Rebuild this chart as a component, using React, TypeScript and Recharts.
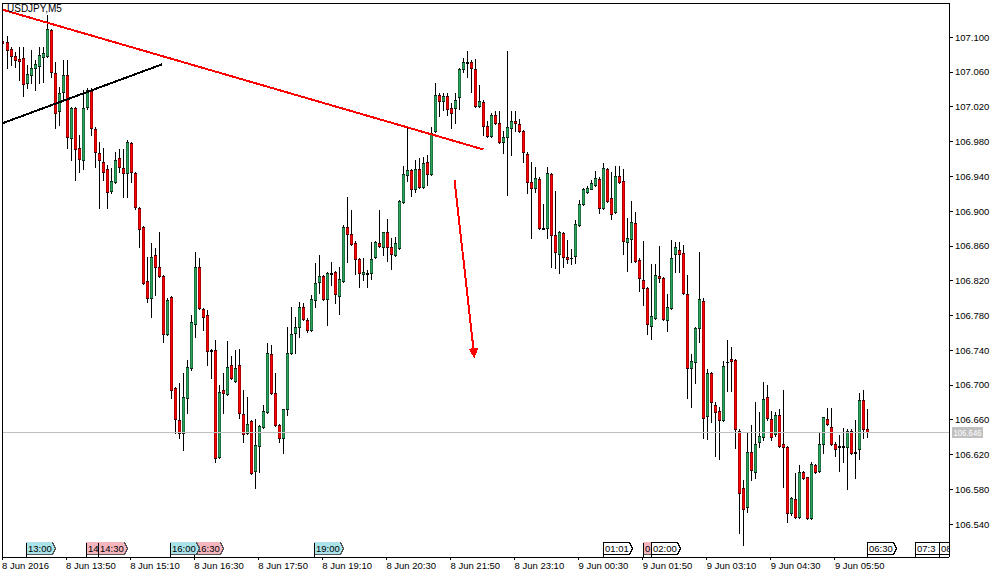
import React from 'react';
import { ComposedChart, Bar, XAxis, YAxis, ReferenceLine } from 'recharts';

// USDJPY M5, 8 Jun 2016 12:30 .. 9 Jun 06:30 (one bar every 5 minutes)
const opens = [
  107.096, 107.095, 107.087, 107.079, 107.075, 107.076, 107.048, 107.057, 107.065, 107.067,
  107.077, 107.079, 107.109, 107.059, 107.015, 107.037, 107.057, 106.984, 107.019, 106.973,
  106.959, 107.020, 107.038, 106.995, 106.967, 106.957, 106.949, 106.923, 106.934, 106.961,
  106.950, 106.944, 106.979, 106.944, 106.904, 106.882, 106.820, 106.800, 106.850, 106.836,
  106.826, 106.759, 106.801, 106.697, 106.660, 106.645, 106.685, 106.720, 106.770, 106.836,
  106.788, 106.781, 106.740, 106.740, 106.617, 106.694, 106.690, 106.723, 106.705, 106.723,
  106.667, 106.645, 106.659, 106.601, 106.630, 106.652, 106.669, 106.736, 106.691, 106.654,
  106.639, 106.672, 106.737, 106.760, 106.767, 106.790, 106.775, 106.763, 106.798, 106.819,
  106.826, 106.799, 106.829, 106.830, 106.803, 106.820, 106.882, 106.874, 106.864, 106.845,
  106.828, 106.829, 106.829, 106.847, 106.864, 106.859, 106.876, 106.859, 106.850, 106.858,
  106.911, 106.942, 106.947, 106.925, 106.949, 106.928, 106.957, 106.943, 106.992, 107.034,
  107.027, 107.033, 107.019, 107.019, 107.031, 107.064, 107.072, 107.072, 107.064, 107.021,
  107.026, 106.998, 106.987, 107.011, 107.002, 106.980, 106.985, 106.996, 107.004, 107.000,
  106.992, 106.966, 106.934, 106.927, 106.937, 106.881, 106.881, 106.943, 106.873, 106.851,
  106.875, 106.847, 106.846, 106.849, 106.884, 106.908, 106.922, 106.926, 106.930, 106.937,
  106.904, 106.949, 106.915, 106.899, 106.941, 106.935, 106.865, 106.868, 106.887, 106.844,
  106.821, 106.812, 106.768, 106.777, 106.826, 106.823, 106.775, 106.789, 106.851, 106.855,
  106.852, 106.805, 106.720, 106.727, 106.766, 106.797, 106.665, 106.714, 106.677, 106.670,
  106.660, 106.727, 106.730, 106.729, 106.647, 106.582, 106.560, 106.623, 106.600, 106.635,
  106.640, 106.686, 106.661, 106.644, 106.666, 106.632, 106.629, 106.553, 106.569, 106.548,
  106.600, 106.594, 106.547, 106.608, 106.601, 106.632, 106.661, 106.652, 106.632, 106.630,
  106.630, 106.629, 106.647, 106.623, 106.627, 106.683, 106.650,
];

const highs = [
  107.099, 107.102, 107.089, 107.083, 107.089, 107.089, 107.068, 107.086, 107.074, 107.089,
  107.089, 107.126, 107.110, 107.072, 107.043, 107.074, 107.074, 107.020, 107.020, 106.988,
  107.040, 107.042, 107.042, 106.997, 106.980, 106.973, 106.953, 106.950, 106.968, 106.971,
  106.971, 106.982, 106.980, 106.945, 106.905, 106.883, 106.847, 106.864, 106.858, 106.876,
  106.827, 106.800, 106.803, 106.698, 106.703, 106.714, 106.729, 106.781, 106.853, 106.846,
  106.789, 106.786, 106.742, 106.752, 106.700, 106.714, 106.751, 106.734, 106.740, 106.742,
  106.694, 106.686, 106.660, 106.661, 106.654, 106.677, 106.749, 106.746, 106.714, 106.655,
  106.673, 106.767, 106.790, 106.778, 106.796, 106.795, 106.777, 106.804, 106.841, 106.850,
  106.827, 106.830, 106.842, 106.831, 106.836, 106.884, 106.916, 106.901, 106.866, 106.846,
  106.846, 106.832, 106.865, 106.866, 106.901, 106.876, 106.891, 106.869, 106.870, 106.913,
  106.952, 106.996, 106.949, 106.959, 106.961, 106.962, 106.965, 106.997, 107.048, 107.036,
  107.036, 107.036, 107.025, 107.036, 107.065, 107.076, 107.084, 107.074, 107.075, 107.045,
  107.028, 107.004, 107.013, 107.015, 107.015, 106.992, 107.084, 107.015, 107.015, 107.006,
  106.994, 106.968, 106.957, 106.951, 106.939, 106.908, 106.951, 106.944, 106.923, 106.877,
  106.876, 106.867, 106.857, 106.890, 106.913, 106.927, 106.929, 106.936, 106.946, 106.939,
  106.956, 106.950, 106.945, 106.952, 106.952, 106.949, 106.892, 106.912, 106.899, 106.846,
  106.866, 106.813, 106.839, 106.839, 106.860, 106.824, 106.805, 106.867, 106.865, 106.865,
  106.861, 106.827, 106.736, 106.767, 106.853, 106.800, 106.719, 106.715, 106.681, 106.675,
  106.728, 106.752, 106.744, 106.730, 106.649, 106.591, 106.645, 106.654, 106.681, 106.669,
  106.704, 106.700, 106.670, 106.669, 106.672, 106.694, 106.630, 106.571, 106.599, 106.608,
  106.601, 106.594, 106.611, 106.609, 106.645, 106.663, 106.674, 106.674, 106.634, 106.643,
  106.651, 106.650, 106.649, 106.660, 106.691, 106.694, 106.672,
];

const lows = [
  107.091, 107.065, 107.068, 107.066, 107.051, 107.033, 107.042, 107.048, 107.040, 107.048,
  107.049, 107.077, 107.054, 106.996, 106.999, 107.028, 106.973, 106.959, 106.936, 106.945,
  106.948, 107.018, 106.988, 106.951, 106.904, 106.936, 106.904, 106.921, 106.933, 106.945,
  106.916, 106.916, 106.934, 106.903, 106.859, 106.816, 106.796, 106.778, 106.804, 106.824,
  106.750, 106.758, 106.685, 106.645, 106.639, 106.625, 106.668, 106.717, 106.755, 106.788,
  106.763, 106.723, 106.708, 106.611, 106.616, 106.668, 106.689, 106.707, 106.704, 106.662,
  106.634, 106.644, 106.598, 106.582, 106.600, 106.651, 106.668, 106.690, 106.653, 106.635,
  106.622, 106.666, 106.736, 106.737, 106.755, 106.775, 106.761, 106.762, 106.790, 106.806,
  106.798, 106.769, 106.815, 106.795, 106.782, 106.819, 106.842, 106.861, 106.828, 106.813,
  106.821, 106.813, 106.822, 106.846, 106.859, 106.850, 106.843, 106.834, 106.849, 106.857,
  106.910, 106.935, 106.918, 106.922, 106.927, 106.927, 106.930, 106.942, 106.991, 107.010,
  107.017, 107.011, 106.996, 107.002, 107.018, 107.060, 107.054, 107.037, 107.020, 107.020,
  106.988, 106.985, 106.985, 107.000, 106.979, 106.967, 106.919, 106.965, 106.992, 106.991,
  106.957, 106.921, 106.869, 106.922, 106.880, 106.879, 106.869, 106.836, 106.835, 106.829,
  106.836, 106.841, 106.839, 106.841, 106.883, 106.907, 106.921, 106.925, 106.929, 106.898,
  106.903, 106.911, 106.891, 106.898, 106.933, 106.851, 106.831, 106.842, 106.842, 106.808,
  106.792, 106.759, 106.753, 106.776, 106.819, 106.775, 106.762, 106.788, 106.830, 106.830,
  106.805, 106.685, 106.675, 106.703, 106.750, 106.639, 106.638, 106.657, 106.619, 106.615,
  106.659, 106.693, 106.693, 106.628, 106.530, 106.516, 106.554, 106.591, 106.593, 106.629,
  106.637, 106.660, 106.637, 106.642, 106.629, 106.583, 106.542, 106.551, 106.547, 106.547,
  106.592, 106.546, 106.546, 106.599, 106.600, 106.622, 106.654, 106.631, 106.619, 106.601,
  106.611, 106.580, 106.621, 106.593, 106.615, 106.639, 106.640,
];

const closes = [
  107.094, 107.086, 107.079, 107.074, 107.073, 107.046, 107.058, 107.065, 107.069, 107.080,
  107.082, 107.110, 107.060, 107.013, 107.036, 107.057, 106.985, 107.019, 106.972, 106.960,
  107.019, 107.040, 106.996, 106.968, 106.959, 106.945, 106.922, 106.935, 106.959, 106.951,
  106.944, 106.980, 106.945, 106.905, 106.880, 106.818, 106.800, 106.847, 106.836, 106.826,
  106.759, 106.798, 106.694, 106.661, 106.645, 106.686, 106.721, 106.773, 106.836, 106.789,
  106.778, 106.739, 106.739, 106.616, 106.692, 106.691, 106.721, 106.708, 106.720, 106.668,
  106.644, 106.655, 106.599, 106.631, 106.653, 106.670, 106.737, 106.691, 106.654, 106.639,
  106.672, 106.737, 106.759, 106.767, 106.790, 106.776, 106.763, 106.799, 106.818, 106.826,
  106.799, 106.829, 106.828, 106.805, 106.822, 106.882, 106.874, 106.862, 106.845, 106.829,
  106.830, 106.828, 106.845, 106.865, 106.860, 106.876, 106.859, 106.851, 106.864, 106.912,
  106.943, 106.947, 106.926, 106.949, 106.928, 106.956, 106.943, 106.990, 107.034, 107.027,
  107.033, 107.018, 107.013, 107.028, 107.064, 107.072, 107.071, 107.065, 107.021, 107.027,
  106.998, 106.987, 107.011, 107.002, 106.980, 106.985, 106.997, 107.004, 107.002, 106.992,
  106.968, 106.934, 106.927, 106.938, 106.881, 106.880, 106.944, 106.873, 106.853, 106.876,
  106.847, 106.845, 106.846, 106.885, 106.908, 106.925, 106.927, 106.933, 106.938, 106.904,
  106.950, 106.912, 106.897, 106.941, 106.934, 106.866, 106.869, 106.888, 106.843, 106.823,
  106.812, 106.770, 106.780, 106.827, 106.823, 106.776, 106.790, 106.846, 106.859, 106.851,
  106.806, 106.720, 106.728, 106.766, 106.799, 106.662, 106.714, 106.681, 106.669, 106.660,
  106.722, 106.727, 106.728, 106.649, 106.576, 106.558, 106.623, 106.602, 106.632, 106.642,
  106.684, 106.662, 106.640, 106.666, 106.630, 106.629, 106.553, 106.570, 106.548, 106.600,
  106.593, 106.547, 106.609, 106.600, 106.632, 106.663, 106.655, 106.632, 106.627, 106.629,
  106.629, 106.647, 106.622, 106.622, 106.683, 106.650, 106.646,
];

// axis ticks (bar index) and their labels
const timeTickIdx = [0, 16, 32, 48, 64, 80, 96, 112, 128, 144, 160, 176, 192, 208];
const timeTickLabels = [
  '8 Jun 2016', '8 Jun 13:50', '8 Jun 15:10', '8 Jun 16:30', '8 Jun 17:50', '8 Jun 19:10',
  '8 Jun 20:30', '8 Jun 21:50', '8 Jun 23:10', '9 Jun 00:30', '9 Jun 01:50', '9 Jun 03:10',
  '9 Jun 04:30', '9 Jun 05:50',
];
const priceTicks = [
  106.54, 106.58, 106.62, 106.66, 106.7, 106.74, 106.78, 106.82, 106.86, 106.9, 106.94,
  106.98, 107.02, 107.06, 107.1,
];

// event flags on the time axis (text as far as it is visible in the chart)
const eventIdx = [6, 21, 24, 48, 42, 78, 150, 160, 162, 216, 228, 234];
const eventText = ['13:00', '14', '14:30', '16:30', '16:00', '19:00', '01:01', '0', '02:00', '06:30', '07:3', '08'];
const eventKind = ['cyan', 'pink', 'pink', 'pink', 'cyan', 'cyan', 'white', 'pink', 'white', 'white', 'white', 'white'];

// hand-drawn objects (bar index, price)
const redTrend = [{ x: 0, y: 107.132 }, { x: 120.25, y: 106.971 }];
const blackTrend = [{ x: 0, y: 107.001 }, { x: 40, y: 107.069 }];
const redArrow = [{ x: 113, y: 106.936 }, { x: 118, y: 106.731 }];

const lastPrice = 106.646;
const Y_MIN = 106.5023;
const Y_MAX = 107.1395;
const X_MAX = 236.5;
const PLOT_RIGHT = 949;

const FONT = "'Liberation Sans', Arial, sans-serif";
const FS = 9.5;

const candles = opens.map((o, i) => ({ i, open: o, high: highs[i], low: lows[i], close: closes[i] }));

const flagColors: Record<string, string> = { cyan: '#abe3ea', pink: '#f5b5bf', white: '#ffffff' };

const Candle = (props: any) => {
  const { x, y, width, height, payload } = props;
  if (x == null || y == null || !payload) return null;
  const top = Math.min(y, y + height);
  const bot = Math.max(y, y + height);
  const { open, close, high, low } = payload;
  const span = high - low || 1e-9;
  const py = (v: number) => top + ((high - v) / span) * (bot - top);
  const cx = Math.round(x + width / 2);
  const t = Math.round(py(Math.max(open, close)));
  const b = Math.round(py(Math.min(open, close)));
  const wt = Math.round(top);
  const wb = Math.round(bot);
  const fill = close > open ? '#2aa35c' : '#ff0000';
  return (
    <g>
      <rect x={cx} y={wt} width={1} height={Math.max(1, wb - wt + 1)} fill="#000" />
      <rect x={cx - 1} y={t} width={3} height={Math.max(1, b - t + 1)} fill="#000" />
      {b - t >= 2 && (
        <rect x={cx - 0.7} y={t + 0.7} width={2.4} height={b - t - 0.4} fill={fill} style={{ shapeRendering: 'geometricPrecision' }} />
      )}
    </g>
  );
};

const TimeTick = (props: any) => {
  const { x, y, payload } = props;
  const k = timeTickIdx.indexOf(payload.value);
  return (
    <text x={x} y={y + 7} textAnchor="start" fontSize={FS} fontFamily={FONT} fill="#000">
      {k >= 0 ? timeTickLabels[k] : ''}
    </text>
  );
};

const makeFlag = (text: string, kind: string, k: number) => (p: any) => {
  const vb = p.viewBox || {};
  const x = Math.round(vb.x) + 0.5;
  const bottom = Math.round(vb.y + vb.height);
  const top = bottom - 15 + 0.5;
  const boxB = bottom - 3 + 0.5;
  const mid = (top + boxB) / 2;
  const w = 26;
  const pts = `${x},${top} ${x + w},${top} ${x + w + 3},${mid} ${x + w},${boxB} ${x},${boxB}`;
  const outline = kind === 'white' ? '#000' : flagColors[kind];
  const clipId = `flagclip${k}`;
  return (
    <g>
      <defs>
        <clipPath id={clipId}>
          <rect x={0} y={0} width={PLOT_RIGHT} height={bottom + 1} />
        </clipPath>
      </defs>
      <g clipPath={`url(#${clipId})`}>
        <polygon points={pts} fill={flagColors[kind]} stroke={outline} strokeWidth={1} />
        {kind !== 'white' && (
          <polyline points={`${x},${boxB} ${x + w},${boxB} ${x + w + 3},${mid} ${x + w},${top}`} fill="none" stroke="#555" strokeWidth={1} />
        )}
        <line x1={x} x2={x} y1={top} y2={bottom} stroke="#000" strokeWidth={1} />
        <text x={x + 1.5} y={boxB - 2.5} fontSize={FS} fontFamily={FONT} fill="#000">{text}</text>
      </g>
    </g>
  );
};

const PriceTag = (p: any) => {
  const vb = p.viewBox || {};
  const x = vb.x + vb.width + 3;
  const yc = vb.y;
  return (
    <g>
      <rect x={x} y={yc - 5.5} width={31} height={11} fill="#c0c0c0" />
      <text x={x + 1.5} y={yc + 3.5} fontSize={FS} fontFamily={FONT} fill="#fff" textLength={28} lengthAdjust="spacingAndGlyphs">
        {lastPrice.toFixed(3)}
      </text>
    </g>
  );
};

const Arrow = (p: any) => {
  const { x1, y1, x2, y2 } = p;
  if (x1 == null) return null;
  const dx = x2 - x1;
  const dy = y2 - y1;
  const len = Math.hypot(dx, dy) || 1;
  const ux = dx / len;
  const uy = dy / len;
  const hl = 10;
  const hw = 5;
  const bx = x2 - ux * hl;
  const by = y2 - uy * hl;
  return (
    <g>
      <line x1={x1} y1={y1} x2={bx} y2={by} stroke="#ff0000" strokeWidth={2} />
      <polygon points={`${x2},${y2} ${bx - uy * hw},${by + ux * hw} ${bx + uy * hw},${by - ux * hw}`} fill="#ff0000" />
    </g>
  );
};

export default function App() {
  return (
    <div style={{ position: 'absolute', left: 0, top: 0, width: 1002, height: 579, background: '#fff', shapeRendering: 'crispEdges' }}>
      <ComposedChart width={1002} height={579} data={candles} margin={{ top: 3, right: 0, bottom: 0, left: 2 }}>
        <XAxis
          dataKey="i"
          type="number"
          domain={[0, X_MAX]}
          ticks={timeTickIdx}
          interval={0}
          allowDataOverflow
          height={22}
          tickSize={3}
          tick={<TimeTick />}
          axisLine={{ stroke: '#000' }}
          tickLine={{ stroke: '#000' }}
        />
        <YAxis
          orientation="right"
          type="number"
          domain={[Y_MIN, Y_MAX]}
          ticks={priceTicks}
          interval={0}
          allowDataOverflow
          width={53}
          tickSize={4}
          tickMargin={2}
          tickFormatter={(v: number) => v.toFixed(3)}
          tick={{ fontSize: FS, fontFamily: FONT, fill: '#000' }}
          axisLine={{ stroke: '#000' }}
          tickLine={{ stroke: '#000' }}
        />
        <ReferenceLine y={lastPrice} stroke="#c0c0c0" label={PriceTag} />
        <Bar dataKey={(d: any) => [d.low, d.high]} barSize={3} shape={Candle} isAnimationActive={false} />
        <ReferenceLine segment={redTrend} stroke="#ff0000" strokeWidth={2} />
        <ReferenceLine segment={blackTrend} stroke="#000" strokeWidth={2} />
        <ReferenceLine segment={redArrow} shape={Arrow} />
        {eventIdx.map((ix, k) => (
          <ReferenceLine key={k} x={ix} stroke="none" label={makeFlag(eventText[k], eventKind[k], k)} />
        ))}
      </ComposedChart>
      <div style={{ position: 'absolute', left: 2, top: 3, width: 947, height: 554, borderLeft: '1px solid #000', borderTop: '1px solid #000', boxSizing: 'border-box', pointerEvents: 'none' }} />
      <div style={{ position: 'absolute', left: 7, top: 3, fontSize: 10, fontFamily: FONT, color: '#000', lineHeight: '12px' }}>USDJPY,M5</div>
    </div>
  );
}
